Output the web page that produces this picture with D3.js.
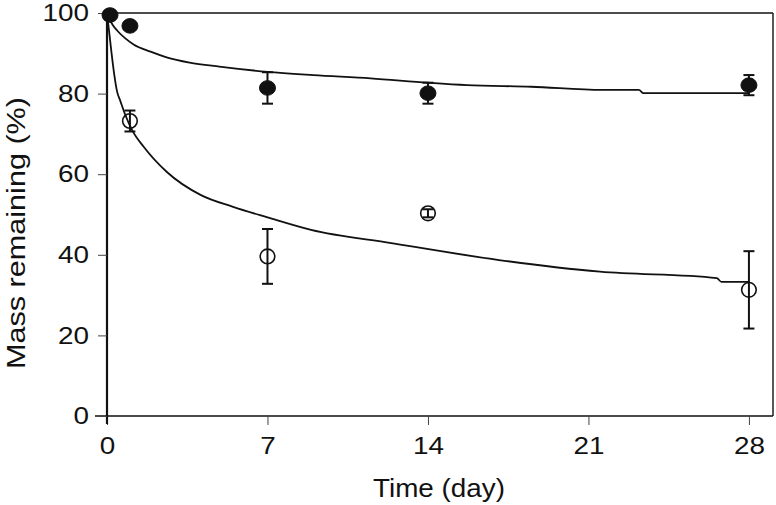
<!DOCTYPE html>
<html><head><meta charset="utf-8">
<script src="https://cdn.jsdelivr.net/npm/d3@7"></script>
<style>body{margin:0;background:#fff}svg{display:block}text{font-family:"Liberation Sans",Arial,sans-serif;fill:#111}</style>
</head><body><svg id="c" width="776" height="505"></svg>
<script>
// Observed data
const days = [0, 1, 7, 14, 28];
const filledMean = [99.5, 96.8, 81.4, 80.1, 82.1];
const filledErr = [0, 0, 3.9, 2.6, 2.5];
const openMean = [100, 73.2, 39.6, 50.3, 31.3];
const openErr = [0, 2.6, 6.8, 1.0, 9.6];
// Fitted curves
const fitFilledT = [0, 0.1, 0.25, 0.45, 0.8, 1.16, 1.9, 2.6, 3.6, 4.9, 7, 9, 11.5, 14, 15.7, 18.5, 21.6, 23.2, 23.4, 28];
const fitFilledV = [100, 98.6, 97.0, 95.6, 93.7, 92.2, 90.4, 89.0, 87.7, 86.7, 85.4, 84.6, 83.8, 82.7, 82.1, 81.7, 80.9, 80.9, 80.1, 80.1];
const fitOpenT = [0, 0.1, 0.2, 0.3, 0.44, 0.58, 0.8, 1.09, 1.6, 2.6, 4.1, 5.5, 7, 8.9, 12.4, 17.1, 21.5, 26.6, 26.8, 28];
const fitOpenV = [100, 95, 90, 85.4, 80.5, 78.2, 74.7, 71.0, 66.8, 60.6, 54.8, 51.9, 49.3, 46.2, 42.9, 38.7, 35.8, 34.2, 33.3, 33.3];
const xTicks = [0, 7, 14, 21, 28];
const yTicks = [0, 20, 40, 60, 80, 100];

const svg = d3.select("#c");
const L = 107, T = 13, R = 773, B = 416;
const x = d3.scaleLinear().domain([0, 29.05]).range([L, R]);
const y = d3.scaleLinear().domain([0, 100]).range([B, T]);
const ink = "#111";
const FONT = "Liberation Sans, Arial, sans-serif";

// frame
svg.append("line").attr("x1", L).attr("x2", R).attr("y1", T).attr("y2", T).attr("stroke", ink).attr("stroke-width", 1.6);
svg.append("line").attr("x1", R).attr("x2", R).attr("y1", T).attr("y2", B).attr("stroke", ink).attr("stroke-width", 1.4);

function styleTicks(g) {
  g.selectAll(".tick text").attr("font-size", 24).attr("fill", ink).style("font-family", FONT)
    .attr("textLength", function () { return 15.5 * this.textContent.length; })
    .attr("lengthAdjust", "spacingAndGlyphs");
}

// axes
const xAxis = d3.axisBottom(x).tickValues(xTicks).tickSize(9).tickPadding(12).tickSizeOuter(0);
const gx = svg.append("g").attr("transform", `translate(0,${B})`).call(xAxis);
gx.select(".domain").attr("d", `M${L - 12},0H${R}`).attr("stroke", ink).attr("stroke-width", 1.4);
gx.selectAll(".tick line").attr("stroke", "#444").attr("stroke-width", 1);
styleTicks(gx);

const yAxis = d3.axisLeft(y).tickValues(yTicks).tickSize(9).tickPadding(9).tickSizeOuter(0);
const gy = svg.append("g").attr("transform", `translate(${L},0)`).call(yAxis);
gy.select(".domain").attr("d", `M0,${B + 8}V${T}`).attr("stroke", ink).attr("stroke-width", 2.2);
gy.selectAll(".tick line").attr("stroke", "#444").attr("stroke-width", 1);
styleTicks(gy);

// titles
svg.append("text").attr("x", 439).attr("y", 497).attr("text-anchor", "middle").attr("font-size", 26)
  .attr("textLength", 132).attr("lengthAdjust", "spacingAndGlyphs").text("Time (day)");
svg.append("text").attr("transform", `translate(25,233) rotate(-90)`).attr("text-anchor", "middle").attr("font-size", 26)
  .attr("textLength", 272).attr("lengthAdjust", "spacingAndGlyphs").text("Mass remaining (%)");

// fitted curves
const line = d3.line().x(d => x(d[0])).y(d => y(d[1])).curve(d3.curveMonotoneX);
svg.append("path").datum(d3.zip(fitFilledT, fitFilledV)).attr("d", line).attr("fill", "none").attr("stroke", ink).attr("stroke-width", 1.8);
svg.append("path").datum(d3.zip(fitOpenT, fitOpenV)).attr("d", line).attr("fill", "none").attr("stroke", ink).attr("stroke-width", 1.8);

// error bars + points
function series(means, errs, filled) {
  const g = svg.append("g");
  days.forEach((d, i) => {
    if (errs[i] > 0) {
      const cx = x(d), y1 = y(means[i] + errs[i]), y2 = y(means[i] - errs[i]);
      g.append("line").attr("x1", cx).attr("x2", cx).attr("y1", y1).attr("y2", y2).attr("stroke", ink).attr("stroke-width", 2);
      [y1, y2].forEach(yy => g.append("line").attr("x1", cx - 5.5).attr("x2", cx + 5.5).attr("y1", yy).attr("y2", yy).attr("stroke", ink).attr("stroke-width", 2));
    }
  });
  days.forEach((d, i) => {
    if (!filled && i === 0) return;
    g.append("ellipse").attr("cx", x(d) + (i === 0 ? 3 : 0)).attr("cy", y(means[i]))
      .attr("rx", filled ? 8 : 7.3).attr("ry", filled ? 7.3 : 7.3)
      .attr("fill", filled ? ink : "none").attr("stroke", ink).attr("stroke-width", filled ? 1 : 1.6);
  });
}
series(openMean, openErr, false);
series(filledMean, filledErr, true);
</script></body></html>
